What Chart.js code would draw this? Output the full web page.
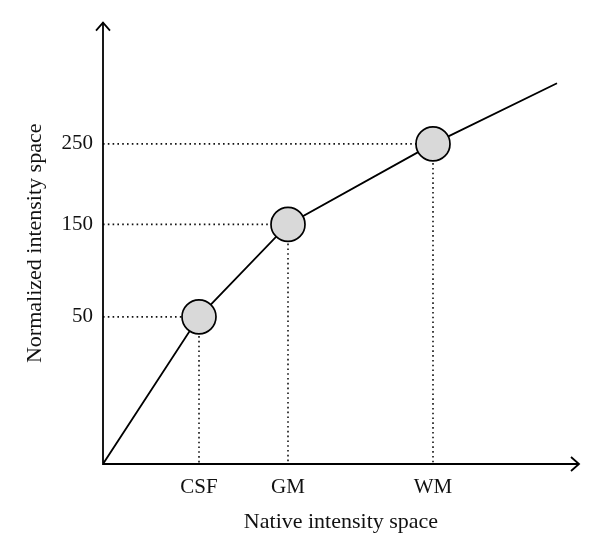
<!DOCTYPE html>
<html>
<head>
<meta charset="utf-8">
<script src="https://cdn.jsdelivr.net/npm/chart.js@4"></script>
<style>
  html, body { margin: 0; padding: 0; background: #fff; }
  #wrap { width: 600px; height: 553px; }
</style>
</head>
<body>
<div id="wrap"><canvas id="myChart"></canvas></div>
<script>
// tissue classes on the native axis and their normalized landmarks
const markerLabels = ['CSF', 'GM', 'WM'];
const nativePos = [96, 185, 330];
const normPos = [148, 241, 322];
const normLabels = ['50', '150', '250'];

// piecewise linear mapping (origin, landmarks, extension)
const mapX = [0, 96, 185, 330, 454];
const mapY = [0, 148, 241, 322, 383];

const serif = "'Liberation Serif', 'DejaVu Serif', serif";

const guides = [];
nativePos.forEach(function (x, i) {
  guides.push({
    type: 'line',
    data: [{x: 0, y: normPos[i]}, {x: x, y: normPos[i]}, {x: NaN, y: NaN}, {x: x, y: normPos[i]}, {x: x, y: 0}],
    borderColor: '#111',
    borderWidth: 1.6,
    borderDash: [1.6, 3.2],
    pointRadius: 0,
    spanGaps: false,
    order: 3
  });
});

const arrows = {
  id: 'arrows',
  afterDatasetsDraw(chart) {
    const a = chart.chartArea;
    const c = chart.ctx;
    c.save();
    c.strokeStyle = '#000';
    c.lineWidth = 1.8;
    c.beginPath();
    c.moveTo(a.left, a.top);
    c.lineTo(a.left, a.bottom);
    c.lineTo(a.right, a.bottom);
    c.stroke();
    c.beginPath();
    c.moveTo(a.left - 7, a.top + 8);
    c.lineTo(a.left, a.top);
    c.lineTo(a.left + 7, a.top + 8);
    c.moveTo(a.right - 8, a.bottom - 7);
    c.lineTo(a.right, a.bottom);
    c.lineTo(a.right - 8, a.bottom + 7);
    c.stroke();
    c.restore();
  }
};

const ctx = document.getElementById('myChart');
const myChart = new Chart(ctx, {
  type: 'scatter',
  data: {
    datasets: [
      {
        type: 'line',
        data: mapX.map((x, i) => ({x: x, y: mapY[i]})),
        borderColor: '#000',
        borderWidth: 1.8,
        pointRadius: 0,
        order: 2
      },
      {
        data: nativePos.map((x, i) => ({x: x, y: normPos[i]})),
        pointRadius: 17,
        pointBackgroundColor: '#d9d9d9',
        pointBorderColor: '#000',
        pointBorderWidth: 1.7,
        clip: false,
        order: 1
      }
    ].concat(guides)
  },
  options: {
    responsive: true,
    maintainAspectRatio: false,
    animation: false,
    layout: { padding: { top: 20, right: 21, left: 0, bottom: 0 } },
    plugins: {
      legend: { display: false },
      tooltip: { enabled: false }
    },
    scales: {
      x: {
        type: 'linear',
        min: 0,
        max: 476,
        grid: { display: false, drawTicks: false },
        border: { display: false },
        afterBuildTicks: (s) => { s.ticks = nativePos.map(v => ({value: v})); },
        afterFit: (s) => { s.height = 89; },
        ticks: {
          autoSkip: false,
          maxRotation: 0,
          padding: 11,
          color: '#111',
          font: { family: serif, size: 21 },
          callback: (v, i) => markerLabels[i]
        },
        title: {
          display: true,
          text: 'Native intensity space',
          color: '#111',
          font: { family: serif, size: 22 },
          padding: { top: 0, bottom: 18 }
        }
      },
      y: {
        type: 'linear',
        min: 0,
        max: 444,
        grid: { display: false, drawTicks: false },
        border: { display: false },
        afterBuildTicks: (s) => { s.ticks = normPos.map(v => ({value: v})); },
        afterFit: (s) => { s.width = 103; },
        ticks: {
          autoSkip: false,
          padding: 10,
          color: '#111',
          font: { family: serif, size: 21 },
          callback: (v, i) => normLabels[i]
        },
        title: {
          display: true,
          text: 'Normalized intensity space',
          color: '#111',
          font: { family: serif, size: 22 },
          padding: { top: 22, bottom: 0 }
        }
      }
    }
  },
  plugins: [arrows]
});
</script>
</body>
</html>
